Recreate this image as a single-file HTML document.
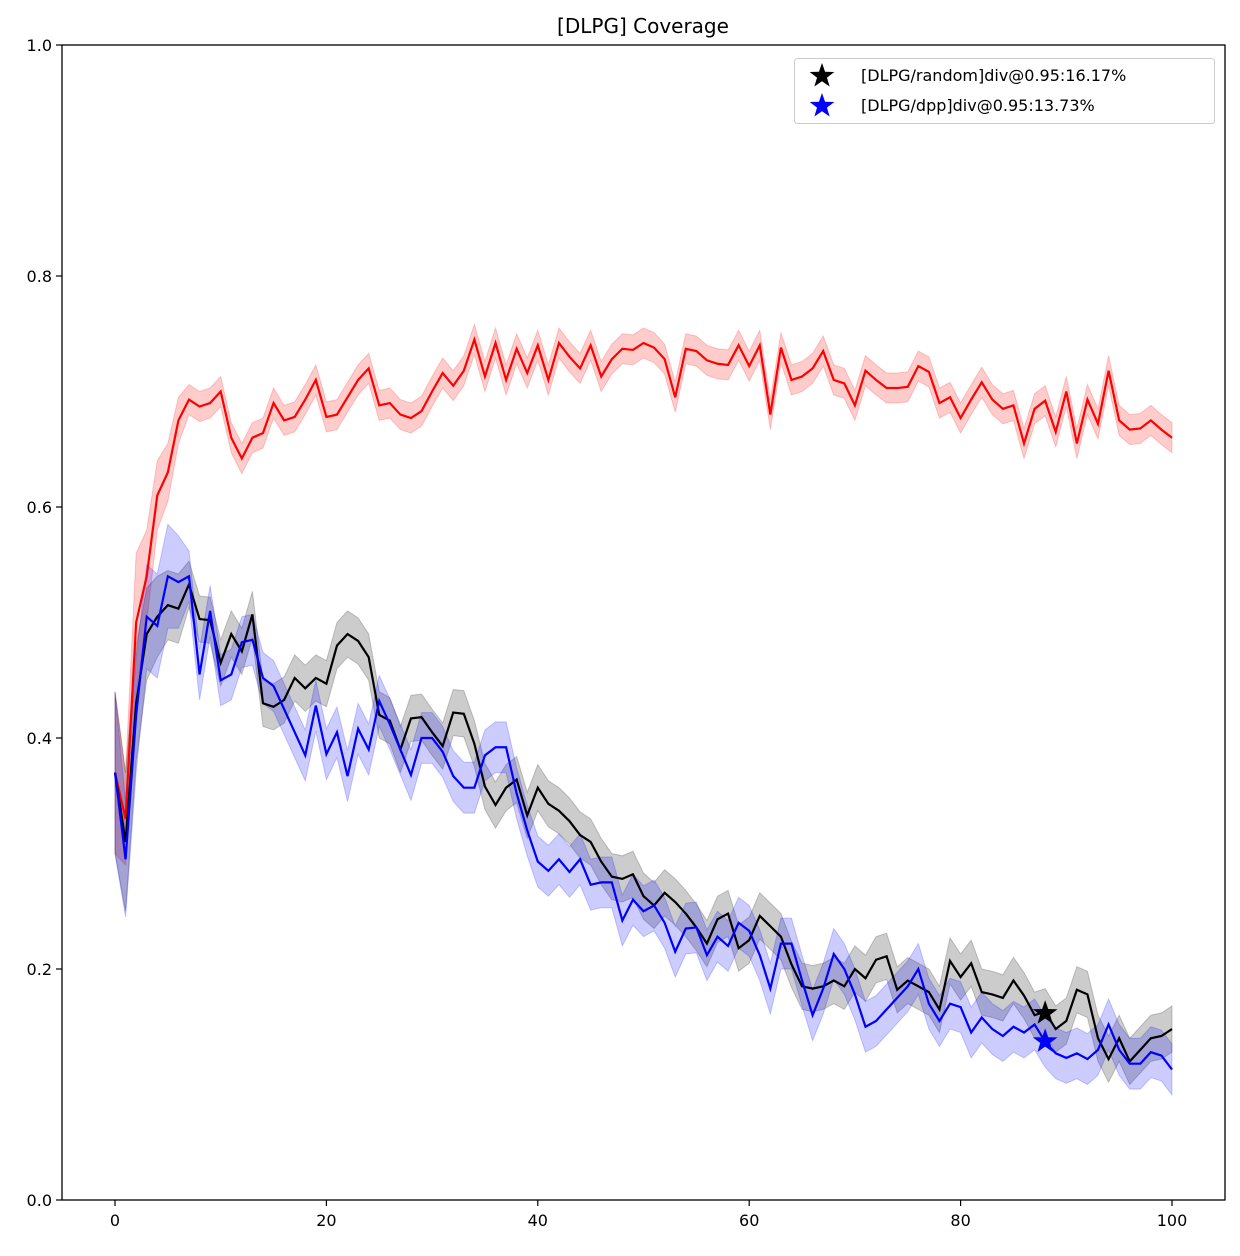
<!DOCTYPE html>
<html><head><meta charset="utf-8"><style>
body{margin:0;background:#fff;}
svg text{font-family:"DejaVu Sans","Liberation Sans",sans-serif;}
</style></head><body>
<svg id="chart" width="1240" height="1251" xmlns="http://www.w3.org/2000/svg">
<rect width="1240" height="1251" fill="#fff"/>
<text x="643" y="33" font-size="20" text-anchor="middle">[DLPG] Coverage</text>
<g id="bands"></g><g id="lines"></g><g id="axes"></g>
<g>
<rect x="794.5" y="58.5" width="420" height="65" rx="3" fill="#fff" fill-opacity="0.8" stroke="#ccc"/>
<text x="861" y="81" font-size="16">[DLPG/random]div@0.95:16.17%</text>
<text x="861" y="111" font-size="16">[DLPG/dpp]div@0.95:13.73%</text>
<g id="legstars"></g>
</g>
</svg>
<script>
const xs=[...Array(101).keys()];
const redVals=[0.37,0.33,0.50,0.54,0.61,0.63,0.675,0.693,0.687,0.69,0.70,0.66,0.642,0.66,0.664,0.69,0.675,0.678,0.693,0.71,0.678,0.68,0.695,0.71,0.72,0.688,0.69,0.68,0.677,0.683,0.70,0.716,0.705,0.718,0.745,0.713,0.742,0.71,0.737,0.716,0.74,0.71,0.742,0.73,0.72,0.74,0.713,0.728,0.737,0.736,0.742,0.738,0.728,0.695,0.737,0.735,0.727,0.724,0.723,0.74,0.722,0.74,0.68,0.738,0.71,0.713,0.72,0.735,0.71,0.707,0.688,0.718,0.71,0.703,0.703,0.704,0.722,0.717,0.69,0.695,0.677,0.693,0.708,0.693,0.685,0.688,0.655,0.685,0.692,0.665,0.70,0.655,0.693,0.672,0.718,0.675,0.667,0.668,0.675,0.667,0.66];
const blackVals=[0.37,0.31,0.43,0.49,0.505,0.515,0.512,0.533,0.503,0.502,0.465,0.49,0.475,0.507,0.43,0.427,0.433,0.452,0.443,0.452,0.447,0.48,0.49,0.484,0.47,0.42,0.415,0.39,0.417,0.418,0.405,0.393,0.422,0.421,0.395,0.358,0.342,0.357,0.364,0.333,0.357,0.343,0.337,0.328,0.316,0.31,0.293,0.28,0.278,0.282,0.263,0.255,0.266,0.258,0.248,0.236,0.222,0.243,0.248,0.218,0.225,0.246,0.237,0.228,0.204,0.185,0.183,0.185,0.19,0.185,0.2,0.192,0.208,0.211,0.182,0.19,0.185,0.18,0.165,0.207,0.193,0.205,0.18,0.178,0.175,0.19,0.177,0.16,0.163,0.148,0.155,0.182,0.178,0.14,0.122,0.14,0.12,0.13,0.14,0.142,0.148];
const blueVals=[0.37,0.295,0.42,0.505,0.497,0.54,0.535,0.54,0.455,0.51,0.45,0.455,0.483,0.485,0.452,0.445,0.425,0.405,0.385,0.428,0.386,0.405,0.367,0.408,0.39,0.432,0.412,0.39,0.368,0.4,0.4,0.388,0.367,0.357,0.357,0.385,0.392,0.392,0.352,0.32,0.293,0.285,0.295,0.284,0.295,0.273,0.275,0.275,0.242,0.26,0.25,0.255,0.24,0.215,0.235,0.236,0.212,0.228,0.22,0.24,0.233,0.212,0.183,0.222,0.222,0.19,0.16,0.183,0.213,0.2,0.178,0.15,0.155,0.165,0.175,0.185,0.2,0.17,0.155,0.17,0.167,0.145,0.158,0.148,0.142,0.15,0.145,0.152,0.137,0.127,0.123,0.127,0.122,0.13,0.152,0.13,0.118,0.118,0.128,0.125,0.113];
const redSpread=[0.07,0.04,0.06,0.04,0.03,0.025,0.02];
const blackSpread=[0.07,0.06,0.05,0.04,0.035,0.03,0.03];
const blueSpread=[0.07,0.05,0.05,0.045,0.045,0.045,0.04];
const redSpreadRest=0.013, blackSpreadRest=0.02, blueSpreadRest=0.022;
const xTicks=[0,20,40,60,80,100];
const yTicks=[0.0,0.2,0.4,0.6,0.8,1.0];
const markerX=88;
const markerVals=[0.1617,0.1373];

const L=62,R=1225,T=45,B=1200;
const X=v=>115+(v-0)*(1172-115)/100;
const Y=v=>B-v*(B-T);
const NS="http://www.w3.org/2000/svg";
function mk(tag,attrs,parent){const e=document.createElementNS(NS,tag);for(const k in attrs)e.setAttribute(k,attrs[k]);parent.appendChild(e);return e;}
const bands=document.getElementById('bands'),lines=document.getElementById('lines'),axes=document.getElementById('axes');
const series=[
 {name:'red',vals:redVals,sp:redSpread,rest:redSpreadRest,c:'#ff0000'},
 {name:'black',vals:blackVals,sp:blackSpread,rest:blackSpreadRest,c:'#000000'},
 {name:'blue',vals:blueVals,sp:blueSpread,rest:blueSpreadRest,c:'#0000ff'}];
series.forEach(s=>{
 const sd=i=>i<s.sp.length?s.sp[i]:s.rest;
 let up=xs.map(i=>X(i)+','+Y(s.vals[i]+sd(i)));
 let dn=xs.slice().reverse().map(i=>X(i)+','+Y(s.vals[i]-sd(i)));
 const b=mk('polygon',{points:up.concat(dn).join(' '),fill:s.c,'fill-opacity':0.2,stroke:s.c,'stroke-opacity':0.2},bands);
 
 
 const l=mk('polyline',{points:xs.map(i=>X(i)+','+Y(s.vals[i])).join(' '),fill:'none',stroke:s.c,'stroke-width':2.2},lines);
 
 
});
function star(cx,cy,r,color,parent){
 let p=[];for(let k=0;k<10;k++){const a=-Math.PI/2+k*Math.PI/5;const rr=k%2?r*0.4:r;p.push((cx+rr*Math.cos(a)).toFixed(2)+','+(cy+rr*Math.sin(a)).toFixed(2));}
 return mk('polygon',{points:p.join(' '),fill:color},parent);
}
const s1=star(X(markerX),Y(markerVals[0]),13,'#000',lines);


const s2=star(X(markerX),Y(markerVals[1]),13,'#00f',lines);


const ls=document.getElementById('legstars');
const l1=star(822,76,13,'#000',ls);


const l2=star(822,106,13,'#00f',ls);


const fr=mk('rect',{x:L,y:T,width:R-L,height:B-T,fill:'none',stroke:'#000','stroke-width':1.3},axes);


xTicks.forEach(t=>{
 mk('line',{x1:X(t),x2:X(t),y1:B,y2:B+6,stroke:'#000','stroke-width':1.2},axes);
 const tx=mk('text',{x:X(t),y:B+26,'font-size':16,'text-anchor':'middle'},axes);tx.textContent=t;
 
 
});
yTicks.forEach(t=>{
 mk('line',{x1:L-6,x2:L,y1:Y(t),y2:Y(t),stroke:'#000','stroke-width':1.2},axes);
 const tx=mk('text',{x:L-10,y:Y(t)+6,'font-size':16,'text-anchor':'end'},axes);tx.textContent=t.toFixed(1);
 
 
});
</script>
</body></html>
